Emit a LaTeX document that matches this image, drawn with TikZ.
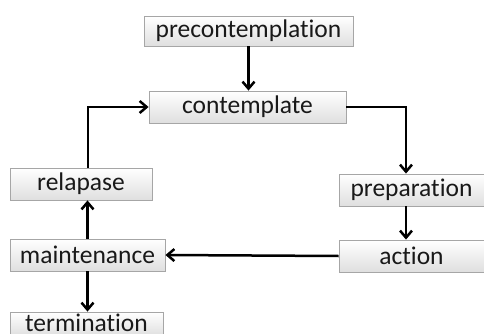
\documentclass[tikz,border=0pt]{standalone}
\usepackage{fontspec}
\setmainfont[Ligatures=NoCommon]{Carlito}
\usetikzlibrary{arrows.meta}
\begin{document}
\begin{tikzpicture}[x=1pt,y=-1pt,
  stage/.style={draw=gray!70, line width=0.9pt, top color=white, bottom color=gray!25,
    inner sep=0pt, minimum height=32pt, font=\fontsize{25.5}{25.5}\selectfont, text=black!90},
  arr/.style={line width=2.5pt, -{Straight Barb[length=7pt,width=12pt,line width=2.5pt]}}]
\clip (0,0) rectangle (484,334);
\fill[white] (0,0) rectangle (484,334);
\node[stage, minimum width=209pt, minimum height=30pt] (pre) at (248.5,31) {precontemplation};
\node[stage, minimum width=197pt] (con) at (247.5,107) {contemplate};
\node[stage, minimum width=142pt] (rel) at (81,184) {relapase};
\node[stage, minimum width=145pt] (prep) at (411.5,190) {preparation};
\node[stage, minimum width=145pt] (act) at (411.5,256) {action};
\node[stage, minimum width=155pt] (main) at (87.5,255) {maintenance};
\node[stage, minimum width=153pt, minimum height=24pt] (term) at (86.5,324) {\raisebox{2pt}{termination}};
\draw[arr] (pre.south) -- (pre.south |- con.north);
\draw[arr] (con.east) -| ([xshift=-5.5pt]prep.north);
\draw[arr] ([xshift=-5.5pt]prep.south) -- ([xshift=-5.5pt]act.north);
\draw[arr] (act.west) -- (main.east);
\draw[arr] (main.north) -- (main.north |- rel.south);
\draw[arr] (main.south) -- (main.south |- term.north);
\draw[arr] ([xshift=7pt]rel.north) |- (con.west);
\end{tikzpicture}
\end{document}
